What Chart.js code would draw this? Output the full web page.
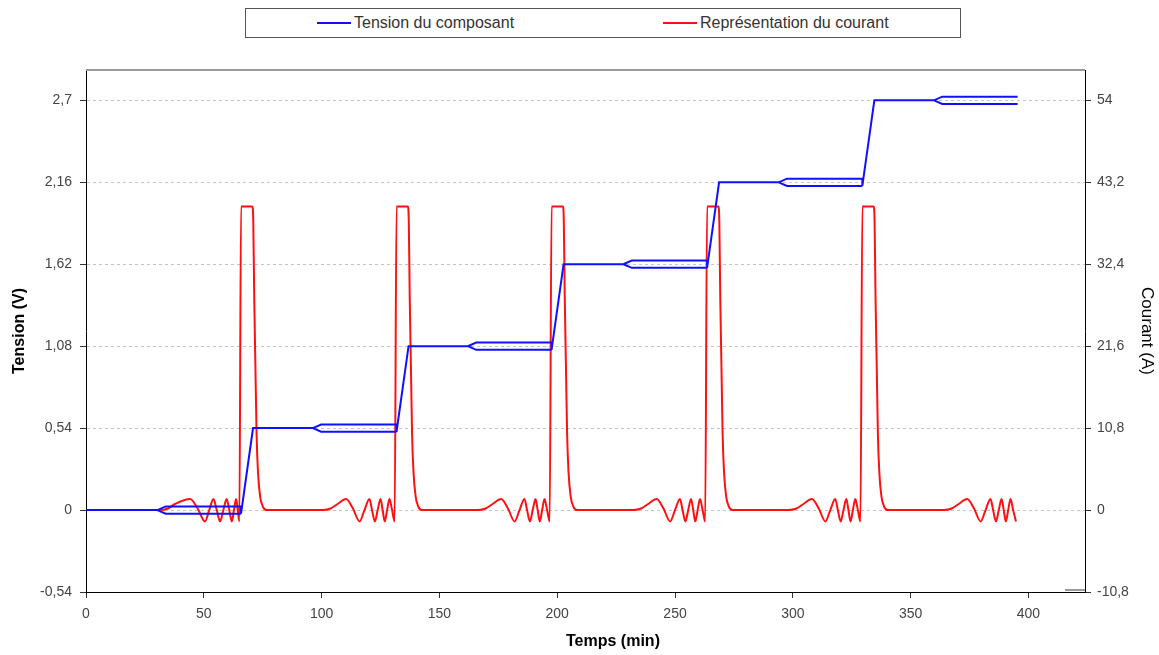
<!DOCTYPE html>
<html><head><meta charset="utf-8">
<script src="https://cdn.jsdelivr.net/npm/chart.js@4.4.1/dist/chart.umd.min.js"></script>
<style>
html,body{margin:0;padding:0;background:#fff;}
#wrap{position:relative;width:1159px;height:655px;}
#c{position:absolute;left:0;top:0;}
#legend{position:absolute;left:245px;top:8px;width:716px;height:30px;border:1px solid #555;box-sizing:border-box;font-family:"Liberation Sans",Arial,sans-serif;font-size:16px;color:#333;background:#fff;}
.item{position:absolute;top:0;height:100%;display:flex;align-items:center;white-space:nowrap;}
.swatch{display:inline-block;width:34px;height:2px;margin-right:3px;}
</style></head><body>
<div id="wrap"><canvas id="c" width="1159" height="655"></canvas><div id="legend"></div></div>
<script>
const seriesNames = ['Tension du composant', 'Représentation du courant'];
const seriesColors = ['#1010ff', '#ff1010'];
const xAxisTitle = 'Temps (min)';

// Tension (V): main path (upper branch of each fork)
const tensionTimes  = [0, 30.3, 33.8, 65.8, 65.8, 70.9, 96.3, 99.8, 131.8, 131.8, 136.9, 162.1, 165.6, 197.6, 197.6, 202.7, 228.1, 231.6, 263.6, 263.6, 268.7, 294.0, 297.5, 329.5, 329.5, 334.6, 359.9, 363.4, 395.4];
const tensionValues = [0, 0, 0.024, 0.024, -0.024, 0.54, 0.54, 0.564, 0.564, 0.516, 1.08, 1.08, 1.104, 1.104, 1.056, 1.62, 1.62, 1.644, 1.644, 1.596, 2.16, 2.16, 2.184, 2.184, 2.136, 2.7, 2.7, 2.724, 2.724];
// Tension (V): lower branch of each fork (null = break)
const tensionLowerTimes  = [30.3, 33.8, 65.8, 65.8, 96.3, 99.8, 131.8, 131.8, 162.1, 165.6, 197.6, 197.6, 228.1, 231.6, 263.6, 263.6, 294.0, 297.5, 329.5, 329.5, 359.9, 363.4, 395.4];
const tensionLowerValues = [0, -0.024, -0.024, null, 0.54, 0.516, 0.516, null, 1.08, 1.056, 1.056, null, 1.62, 1.596, 1.596, null, 2.16, 2.136, 2.136, null, 2.7, 2.676, 2.676];

// Courant (A)
const currentTimes = [
  0, 31.4, 34.8, 37.8, 44.2, 47.4, 50.5, 52.3, 54.1, 55.5, 56.9, 58.3, 59.7, 60.8, 61.9, 62.8, 63.7, 64.4, 65.1, 65.8,
  70.6, 71.0, 71.4, 71.9, 72.4, 73.0, 73.9, 75.0, 76.6,
  100.6, 103.8, 106.8, 110.4, 113.3, 116.1, 118.2, 120.3, 121.4, 122.6, 123.8, 125.0, 125.9, 126.8, 127.8, 128.8, 129.9, 131.0, 131.8,
  136.6, 137.0, 137.4, 137.9, 138.4, 139.0, 139.9, 141.0, 142.6,
  166.4, 169.6, 172.6, 176.2, 179.1, 181.9, 184.0, 186.1, 187.2, 188.4, 189.6, 190.8, 191.7, 192.6, 193.6, 194.6, 195.7, 196.8, 197.6,
  202.4, 202.8, 203.2, 203.7, 204.2, 204.8, 205.7, 206.8, 208.4,
  232.4, 235.6, 238.6, 242.2, 245.1, 247.9, 250.0, 252.1, 253.2, 254.4, 255.6, 256.8, 257.7, 258.6, 259.6, 260.6, 261.7, 262.8, 263.6,
  268.4, 268.8, 269.2, 269.7, 270.2, 270.8, 271.7, 272.8, 274.4,
  298.3, 301.5, 304.5, 308.1, 311.0, 313.8, 315.9, 318.0, 319.1, 320.3, 321.5, 322.7, 323.6, 324.5, 325.5, 326.5, 327.6, 328.7, 329.5,
  334.3, 334.7, 335.1, 335.6, 336.1, 336.7, 337.6, 338.7, 340.3,
  364.2, 367.4, 370.4, 374.0, 376.9, 379.7, 381.8, 383.9, 385.0, 386.2, 387.4, 388.6, 389.5, 390.4, 391.4, 392.4, 393.5, 394.7
];
const currentValues = [
  0, 0, 0.2, 0.8, 1.45, 0.2, -1.5, 0, 1.45, 0, -1.5, 0, 1.45, 0, -1.5, 0, 1.45, 0, -1.5, 40,
  40, 38, 28, 19, 10, 5, 1.8, 0.5, 0,
  0, 0.2, 0.8, 1.45, 0.2, -1.5, 0, 1.45, 0, -1.5, 0, 1.45, 0, -1.5, 0, 1.45, 0, -1.5, 40,
  40, 38, 28, 19, 10, 5, 1.8, 0.5, 0,
  0, 0.2, 0.8, 1.45, 0.2, -1.5, 0, 1.45, 0, -1.5, 0, 1.45, 0, -1.5, 0, 1.45, 0, -1.5, 40,
  40, 38, 28, 19, 10, 5, 1.8, 0.5, 0,
  0, 0.2, 0.8, 1.45, 0.2, -1.5, 0, 1.45, 0, -1.5, 0, 1.45, 0, -1.5, 0, 1.45, 0, -1.5, 40,
  40, 38, 28, 19, 10, 5, 1.8, 0.5, 0,
  0, 0.2, 0.8, 1.45, 0.2, -1.5, 0, 1.45, 0, -1.5, 0, 1.45, 0, -1.5, 0, 1.45, 0, -1.5, 40,
  40, 38, 28, 19, 10, 5, 1.8, 0.5, 0,
  0, 0.2, 0.8, 1.45, 0.2, -1.5, 0, 1.45, 0, -1.5, 0, 1.45, 0, -1.5, 0, 1.45, 0, -1.5
];

const timeTicks = [0, 50, 100, 150, 200, 250, 300, 350, 400];
const tensionTicks = [-0.54, 0, 0.54, 1.08, 1.62, 2.16, 2.7];
const tensionTickLabels = ['-0,54', '0', '0,54', '1,08', '1,62', '2,16', '2,7'];
const courantTicks = [-10.8, 0, 10.8, 21.6, 32.4, 43.2, 54];
const courantTickLabels = ['-10,8', '0', '10,8', '21,6', '32,4', '43,2', '54'];

const tensionData = tensionTimes.map((t, i) => ({x: t, y: tensionValues[i]}));
tensionData.push({x: 395.4, y: null});
tensionLowerTimes.forEach((t, i) => tensionData.push({x: t, y: tensionLowerValues[i]}));
const currentData = currentTimes.map((t, i) => ({x: t, y: currentValues[i]}));

const FONT = '"Liberation Sans", Arial, sans-serif';

const framePlugin = {
  id: 'frame',
  afterDraw(chart) {
    const {ctx, chartArea: a} = chart;
    ctx.save();
    ctx.strokeStyle = '#9a9a9a';
    ctx.lineWidth = 2;
    ctx.beginPath();
    ctx.moveTo(a.left, a.top);
    ctx.lineTo(a.right, a.top);
    ctx.stroke();
    ctx.beginPath();
    ctx.moveTo(a.right - 20, a.bottom - 2);
    ctx.lineTo(a.right, a.bottom - 2);
    ctx.stroke();
    // x-axis title (placed as in the original, right of centre)
    ctx.fillStyle = '#000';
    ctx.font = 'bold 16px ' + FONT;
    ctx.textAlign = 'center';
    ctx.textBaseline = 'middle';
    ctx.fillText(xAxisTitle, 613, 642);
    ctx.restore();
  }
};

const chart = new Chart(document.getElementById('c'), {
  type: 'line',
  data: {
    datasets: [
      {label: seriesNames[0], data: tensionData, yAxisID: 'y', borderColor: seriesColors[0], backgroundColor: seriesColors[0], borderWidth: 2, pointRadius: 0, tension: 0, spanGaps: false},
      {label: seriesNames[1], data: currentData, yAxisID: 'y1', borderColor: seriesColors[1], backgroundColor: seriesColors[1], borderWidth: 2, pointRadius: 0, cubicInterpolationMode: 'monotone'}
    ]
  },
  options: {
    responsive: false,
    animation: false,
    layout: {padding: {top: 70, left: 0, right: 0, bottom: 0}},
    plugins: {legend: {display: false}, tooltip: {enabled: false}},
    scales: {
      x: {
        type: 'linear', min: 0, max: 424,
        afterBuildTicks: s => { s.ticks = timeTicks.map(v => ({value: v})); },
        afterFit: s => { s.height = 63; },
        grid: {drawOnChartArea: false, tickLength: 6, tickColor: '#333', tickBorderDash: []},
        border: {color: '#000', width: 1},
        ticks: {font: {family: FONT, size: 14}, color: '#444', padding: 8, maxRotation: 0},
        title: {display: false}
      },
      y: {
        type: 'linear', position: 'left', min: -0.54, max: 2.9,
        afterBuildTicks: s => { s.ticks = tensionTicks.map(v => ({value: v})); },
        afterFit: s => { s.width = 86; },
        grid: {color: '#c4c4c4', tickColor: '#333', tickLength: 6, tickBorderDash: []},
        border: {color: '#000', width: 1, dash: [3, 3]},
        ticks: {font: {family: FONT, size: 14}, color: '#444', padding: 8, callback: (v, i) => tensionTickLabels[i]},
        title: {display: true, text: 'Tension (V)', font: {family: FONT, size: 16, weight: 'bold'}, color: '#000', padding: {top: 10, bottom: 0}}
      },
      y1: {
        type: 'linear', position: 'right', min: -10.8, max: 58,
        afterBuildTicks: s => { s.ticks = courantTicks.map(v => ({value: v})); },
        afterFit: s => { s.width = 74; },
        grid: {drawOnChartArea: false, tickColor: '#333', tickLength: 6, tickBorderDash: []},
        border: {color: '#000', width: 1},
        ticks: {font: {family: FONT, size: 14}, color: '#444', padding: 6, callback: (v, i) => courantTickLabels[i]},
        title: {display: true, text: 'Courant (A)', font: {family: FONT, size: 17}, color: '#000', padding: {top: 2, bottom: 0}}
      }
    }
  },
  plugins: [framePlugin]
});

// HTML legend built from the chart's datasets
const legend = document.getElementById('legend');
const legendLefts = [71, 417];
chart.data.datasets.forEach((ds, i) => {
  const item = document.createElement('div');
  item.className = 'item';
  item.style.left = legendLefts[i] + 'px';
  const sw = document.createElement('span');
  sw.className = 'swatch';
  sw.style.background = ds.borderColor;
  const tx = document.createElement('span');
  tx.textContent = ds.label;
  item.appendChild(sw); item.appendChild(tx);
  legend.appendChild(item);
});
</script>
</body></html>
